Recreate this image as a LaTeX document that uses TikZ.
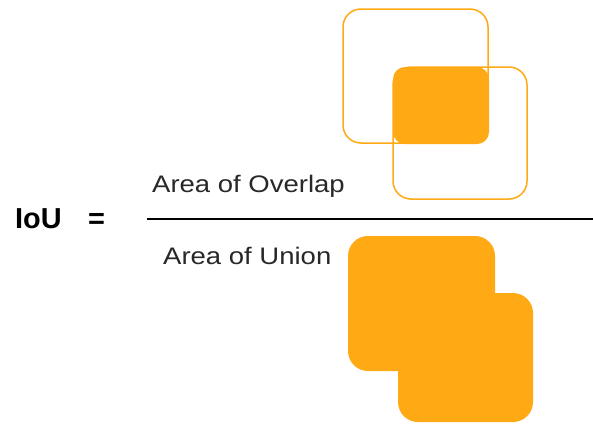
\documentclass[tikz,border=0pt]{standalone}
\usepackage{fontspec}
\setmainfont{Liberation Sans}
\newfontfamily\widesans[FakeStretch=1.15]{Liberation Sans}
\definecolor{boxorange}{RGB}{255,169,20}
\definecolor{labelgrey}{RGB}{40,40,40}
\begin{document}
\begin{tikzpicture}[x=1bp,y=-1bp,
  outlinebox/.style={draw=boxorange, line width=1.5bp, rounded corners=18bp},
  overlapbox/.style={fill=boxorange, rounded corners=12bp},
  unionbox/.style={fill=boxorange, rounded corners=20bp},
  areatext/.style={text=labelgrey, font=\widesans\fontsize{24}{27}\selectfont, inner sep=0pt, anchor=base west},
  eqtext/.style={text=black, font=\fontsize{29}{32}\selectfont\bfseries, inner sep=0pt, anchor=base west}]
\useasboundingbox (0,0) rectangle (593,425);
\fill[white] (0,0) rectangle (593,425);

% two overlapping boxes and their intersection
\draw[outlinebox] (343,9) rectangle (488,143);
\draw[outlinebox] (393,67) rectangle (527,199);
\fill[overlapbox] (393,67) rectangle (489,144);

% union of the two boxes
\fill[unionbox] (348,236) rectangle (495,371);
\fill[unionbox] (398,293) rectangle (533,422);

% formula
\node[eqtext] (iou) at (15,228) {IoU};
\node[eqtext] (eq) at (88,228) {=};
\node[areatext] (num) at (152,192) {Area of Overlap};
\node[areatext] (den) at (163,264) {Area of Union};
\coordinate (barL) at (147,219);
\coordinate (barR) at (593,219);
\draw[line width=1.4bp, black] (barL) -- (barR);
\end{tikzpicture}
\end{document}
